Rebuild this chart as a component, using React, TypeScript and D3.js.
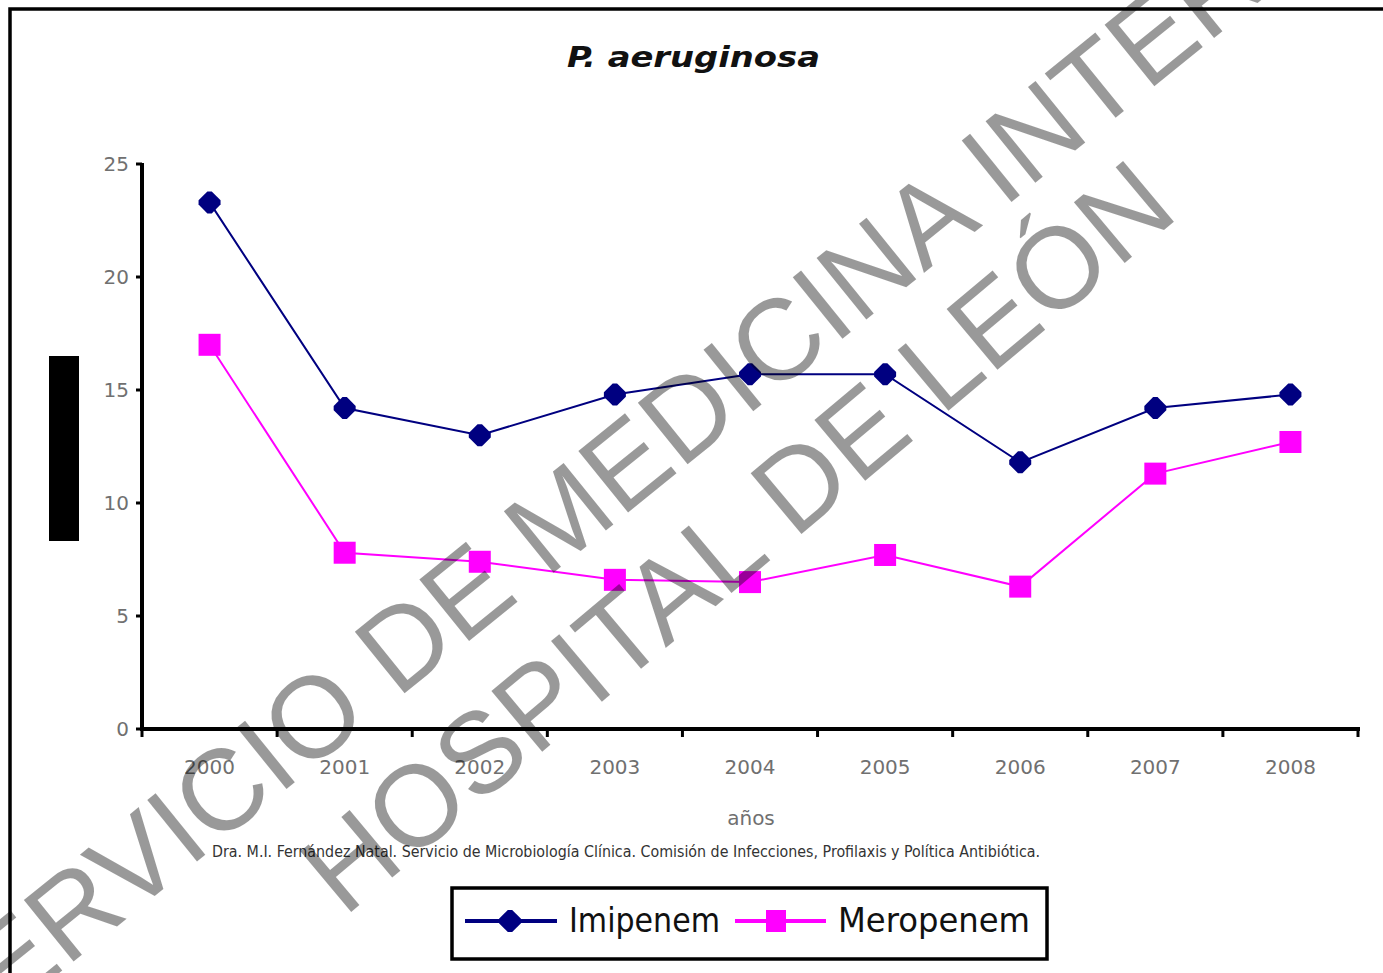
import React from "react";
import * as d3 from "d3";

const years = ["2000", "2001", "2002", "2003", "2004", "2005", "2006", "2007", "2008"];
const imipenem = [23.3, 14.2, 13.0, 14.8, 15.7, 15.7, 11.8, 14.2, 14.8];
const meropenem = [17.0, 7.8, 7.4, 6.6, 6.5, 7.7, 6.3, 11.3, 12.7];
const yTicks = [0, 5, 10, 15, 20, 25];
const titleText = "P. aeruginosa";
const xTitle = "años";
const footnote =
  "Dra. M.I. Fernández Natal. Servicio de Microbiología Clínica. Comisión de Infecciones, Profilaxis y Política Antibiótica.";
const seriesNames = ["Imipenem", "Meropenem"];
const watermark1 = "SERVICIO DE MEDICINA INTERNA";
const watermark2 = "HOSPITAL DE LEÓN";

const W = 1383;
const H = 973;
const left = 142;
const right = 1358;
const top = 164;
const bottom = 729;

const diamondPts = (cx: number, cy: number, r: number) => {
  const t = r * 0.2;
  return [
    [cx - t, cy - r],
    [cx + t, cy - r],
    [cx + r, cy - t],
    [cx + r, cy + t],
    [cx + t, cy + r],
    [cx - t, cy + r],
    [cx - r, cy + t],
    [cx - r, cy - t],
  ]
    .map((p) => p.join(","))
    .join(" ");
};

export default function App() {
  const x = d3.scaleBand<string>().domain(years).range([left, right]).padding(0);
  const y = d3.scaleLinear().domain([0, 25]).range([bottom, top]);
  const cx = (d: string) => (x(d) as number) + x.bandwidth() / 2;

  const line = d3
    .line<number>()
    .x((_, i) => cx(years[i]))
    .y((v) => y(v));

  const boundaries = years.map((d) => x(d) as number).concat([right]);

  const NAVY = "#000080";
  const MAG = "#FF00FF";
  const tickFont = "'DejaVu Sans', Verdana, sans-serif";

  return (
    <svg
      width={W}
      height={H}
      style={{ position: "absolute", left: 0, top: 0, background: "#fff" }}
    >
      <rect x={0} y={0} width={W} height={H} fill="#fff" />
      {/* outer frame (only top/left visible) */}
      <rect x={10} y={9} width={1500} height={1100} fill="none" stroke="#000" strokeWidth={3.5} />

      {/* title */}
      <text
        x={567}
        y={67}
        textLength={253}
        lengthAdjust="spacingAndGlyphs"
        fontFamily={tickFont}
        fontWeight="bold"
        fontStyle="italic"
        fontSize={29}
        fill="#111"
      >
        {titleText}
      </text>

      {/* redacted y label */}
      <rect x={49} y={356} width={30} height={185} fill="#000" />

      {/* y axis */}
      <line x1={left} y1={top - 1} x2={left} y2={bottom + 2} stroke="#000" strokeWidth={4} />
      {yTicks.map((t) => (
        <g key={t}>
          <line x1={136} x2={left} y1={y(t)} y2={y(t)} stroke="#000" strokeWidth={3} />
          <text
            x={129}
            y={y(t)}
            textAnchor="end"
            dominantBaseline="central"
            fontFamily={tickFont}
            fontSize={20}
            fill="#707070"
          >
            {t}
          </text>
        </g>
      ))}

      {/* x axis */}
      <line x1={left - 2} x2={right + 2} y1={bottom} y2={bottom} stroke="#000" strokeWidth={4} />
      {boundaries.map((b, i) => (
        <line key={i} x1={b} x2={b} y1={bottom} y2={bottom + 8} stroke="#000" strokeWidth={3} />
      ))}
      {years.map((d) => (
        <text
          key={d}
          x={cx(d)}
          y={767}
          textAnchor="middle"
          dominantBaseline="central"
          fontFamily={tickFont}
          fontSize={20}
          fill="#707070"
        >
          {d}
        </text>
      ))}
      <text
        x={751}
        y={818}
        textAnchor="middle"
        dominantBaseline="central"
        fontFamily={tickFont}
        fontSize={20}
        fill="#707070"
      >
        {xTitle}
      </text>
      <text
        x={212}
        y={857}
        textLength={828}
        lengthAdjust="spacingAndGlyphs"
        fontFamily="'DejaVu Sans Condensed', 'DejaVu Sans', sans-serif"
        fontSize={16}
        fill="#333"
      >
        {footnote}
      </text>

      {/* series */}
      <path d={line(imipenem) as string} fill="none" stroke={NAVY} strokeWidth={2} />
      <path d={line(meropenem) as string} fill="none" stroke={MAG} strokeWidth={2} />
      {imipenem.map((v, i) => (
        <polygon key={"i" + i} points={diamondPts(cx(years[i]), y(v), 11)} fill={NAVY} />
      ))}
      {meropenem.map((v, i) => (
        <rect key={"m" + i} x={cx(years[i]) - 11} y={y(v) - 11} width={22} height={22} fill={MAG} />
      ))}

      {/* legend */}
      <rect x={452} y={888} width={595} height={71} fill="#fff" stroke="#000" strokeWidth={3.5} />
      <line x1={465} x2={557} y1={921} y2={921} stroke={NAVY} strokeWidth={4} />
      <polygon points={diamondPts(510, 921, 11)} fill={NAVY} />
      <text
        x={569}
        y={932}
        textLength={151}
        lengthAdjust="spacingAndGlyphs"
        fontFamily="'DejaVu Sans Condensed', 'DejaVu Sans', sans-serif"
        fontSize={33}
        fill="#111"
      >
        {seriesNames[0]}
      </text>
      <line x1={735} x2={826} y1={921} y2={921} stroke={MAG} strokeWidth={4} />
      <rect x={776 - 10} y={921 - 11} width={20} height={22} fill={MAG} />
      <text
        x={838}
        y={932}
        textLength={192}
        lengthAdjust="spacingAndGlyphs"
        fontFamily="'DejaVu Sans Condensed', 'DejaVu Sans', sans-serif"
        fontSize={33}
        fill="#111"
      >
        {seriesNames[1]}
      </text>

      {/* watermark */}
      <g fontFamily="'Liberation Sans', Arial, sans-serif" fontSize={115} fill="#000" fillOpacity={0.4}>
        <text transform="translate(-53,1064) rotate(-39)" stroke="#000" strokeOpacity={0.4} strokeWidth={0}>
          {watermark1}
        </text>
        <text transform="translate(344,918) rotate(-40)">{watermark2}</text>
      </g>
    </svg>
  );
}
